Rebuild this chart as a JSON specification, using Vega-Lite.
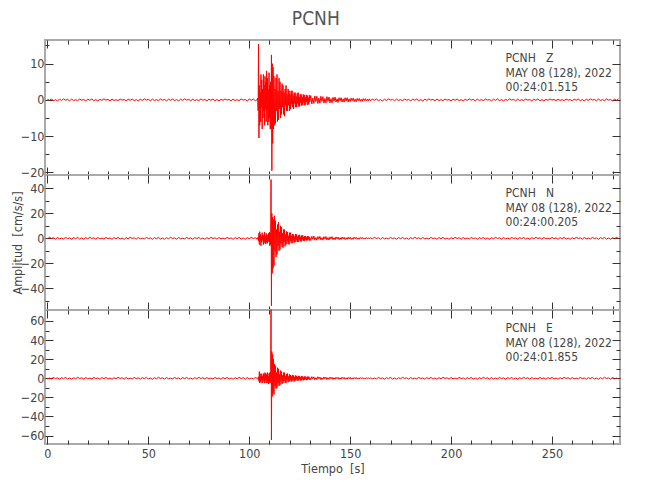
{
"$schema": "https://vega.github.io/schema/vega-lite/v6.json",
"padding": {"left": 9, "top": 9, "right": 5, "bottom": 5},
"bounds": "flush",
"title": {"text": "PCNH", "fontSize": 19, "fontWeight": "normal", "color": "#555555", "anchor": "middle", "offset": 10, "font": "DejaVu Sans Condensed, sans-serif"},
"spacing": 0,
"config": {
  "view": {"stroke": "#aaaaaa", "strokeWidth": 2},
  "font": "DejaVu Sans Condensed, sans-serif",
  "axis": {"domain": false, "grid": false, "tickColor": "#333333", "tickWidth": 1, "labelColor": "#444444", "labelFontSize": 12.5, "labelFlush": false, "labelOverlap": false, "labelBound": false, "titleFontSize": 12.5, "titleFontWeight": "normal", "titleColor": "#444444", "labelFont": "DejaVu Sans Condensed, sans-serif", "titleFont": "DejaVu Sans Condensed, sans-serif"}
},
"datasets": {"s": [
{"t":0,"z":0.2,"n":-0.4,"e":-0.6},
{"t":1,"z":-0.11,"n":0.8,"e":0.2},
{"t":2,"z":0.25,"n":-0.16,"e":-0.7},
{"t":3,"z":-0.22,"n":0.4,"e":0.9},
{"t":4,"z":0.08,"n":-0.72,"e":-0.3},
{"t":5,"z":-0.28,"n":0.64,"e":0.4},
{"t":6,"z":0.17,"n":-0.48,"e":-1.0},
{"t":7,"z":-0.14,"n":0.16,"e":0.7},
{"t":8,"z":0.28,"n":-0.56,"e":-0.4},
{"t":9,"z":-0.06,"n":0.72,"e":0.9},
{"t":10,"z":0.14,"n":-0.24,"e":-0.8},
{"t":11,"z":-0.25,"n":0.32,"e":0.3},
{"t":12,"z":0.22,"n":-0.8,"e":-1.0},
{"t":13,"z":-0.17,"n":0.56,"e":0.6},
{"t":14,"z":0.06,"n":-0.32,"e":-0.5},
{"t":15,"z":-0.2,"n":0.72,"e":1.0},
{"t":16,"z":0.25,"n":-0.64,"e":-0.2},
{"t":17,"z":-0.08,"n":0.24,"e":0.5},
{"t":18,"z":0.11,"n":-0.8,"e":-0.9},
{"t":19,"z":-0.28,"n":0.48,"e":0.8},
{"t":20,"z":0.2,"n":-0.4,"e":-0.6},
{"t":21,"z":-0.11,"n":0.8,"e":0.2},
{"t":22,"z":0.25,"n":-0.16,"e":-0.7},
{"t":23,"z":-0.22,"n":0.4,"e":0.9},
{"t":24,"z":0.08,"n":-0.72,"e":-0.3},
{"t":25,"z":-0.28,"n":0.64,"e":0.4},
{"t":26,"z":0.17,"n":-0.48,"e":-1.0},
{"t":27,"z":-0.14,"n":0.16,"e":0.7},
{"t":28,"z":0.28,"n":-0.56,"e":-0.4},
{"t":29,"z":-0.06,"n":0.72,"e":0.9},
{"t":30,"z":0.14,"n":-0.24,"e":-0.8},
{"t":31,"z":-0.25,"n":0.32,"e":0.3},
{"t":32,"z":0.22,"n":-0.8,"e":-1.0},
{"t":33,"z":-0.17,"n":0.56,"e":0.6},
{"t":34,"z":0.06,"n":-0.32,"e":-0.5},
{"t":35,"z":-0.2,"n":0.72,"e":1.0},
{"t":36,"z":0.25,"n":-0.64,"e":-0.2},
{"t":37,"z":-0.08,"n":0.24,"e":0.5},
{"t":38,"z":0.11,"n":-0.8,"e":-0.9},
{"t":39,"z":-0.28,"n":0.48,"e":0.8},
{"t":40,"z":0.2,"n":-0.4,"e":-0.6},
{"t":41,"z":-0.11,"n":0.8,"e":0.2},
{"t":42,"z":0.25,"n":-0.16,"e":-0.7},
{"t":43,"z":-0.22,"n":0.4,"e":0.9},
{"t":44,"z":0.08,"n":-0.72,"e":-0.3},
{"t":45,"z":-0.28,"n":0.64,"e":0.4},
{"t":46,"z":0.17,"n":-0.48,"e":-1.0},
{"t":47,"z":-0.14,"n":0.16,"e":0.7},
{"t":48,"z":0.28,"n":-0.56,"e":-0.4},
{"t":49,"z":-0.06,"n":0.72,"e":0.9},
{"t":50,"z":0.14,"n":-0.24,"e":-0.8},
{"t":51,"z":-0.25,"n":0.32,"e":0.3},
{"t":52,"z":0.22,"n":-0.8,"e":-1.0},
{"t":53,"z":-0.17,"n":0.56,"e":0.6},
{"t":54,"z":0.06,"n":-0.32,"e":-0.5},
{"t":55,"z":-0.2,"n":0.72,"e":1.0},
{"t":56,"z":0.25,"n":-0.64,"e":-0.2},
{"t":57,"z":-0.08,"n":0.24,"e":0.5},
{"t":58,"z":0.11,"n":-0.8,"e":-0.9},
{"t":59,"z":-0.28,"n":0.48,"e":0.8},
{"t":60,"z":0.2,"n":-0.4,"e":-0.6},
{"t":61,"z":-0.11,"n":0.8,"e":0.2},
{"t":62,"z":0.25,"n":-0.16,"e":-0.7},
{"t":63,"z":-0.22,"n":0.4,"e":0.9},
{"t":64,"z":0.08,"n":-0.72,"e":-0.3},
{"t":65,"z":-0.28,"n":0.64,"e":0.4},
{"t":66,"z":0.17,"n":-0.48,"e":-1.0},
{"t":67,"z":-0.14,"n":0.16,"e":0.7},
{"t":68,"z":0.28,"n":-0.56,"e":-0.4},
{"t":69,"z":-0.06,"n":0.72,"e":0.9},
{"t":70,"z":0.14,"n":-0.24,"e":-0.8},
{"t":71,"z":-0.25,"n":0.32,"e":0.3},
{"t":72,"z":0.22,"n":-0.8,"e":-1.0},
{"t":73,"z":-0.17,"n":0.56,"e":0.6},
{"t":74,"z":0.06,"n":-0.32,"e":-0.5},
{"t":75,"z":-0.2,"n":0.72,"e":1.0},
{"t":76,"z":0.25,"n":-0.64,"e":-0.2},
{"t":77,"z":-0.08,"n":0.24,"e":0.5},
{"t":78,"z":0.11,"n":-0.8,"e":-0.9},
{"t":79,"z":-0.28,"n":0.48,"e":0.8},
{"t":80,"z":0.2,"n":-0.4,"e":-0.6},
{"t":81,"z":-0.11,"n":0.8,"e":0.2},
{"t":82,"z":0.25,"n":-0.16,"e":-0.7},
{"t":83,"z":-0.22,"n":0.4,"e":0.9},
{"t":84,"z":0.08,"n":-0.72,"e":-0.3},
{"t":85,"z":-0.28,"n":0.64,"e":0.4},
{"t":86,"z":0.17,"n":-0.48,"e":-1.0},
{"t":87,"z":-0.14,"n":0.16,"e":0.7},
{"t":88,"z":0.28,"n":-0.56,"e":-0.4},
{"t":89,"z":-0.06,"n":0.72,"e":0.9},
{"t":90,"z":0.14,"n":-0.24,"e":-0.8},
{"t":91,"z":-0.25,"n":0.32,"e":0.3},
{"t":92,"z":0.22,"n":-0.8,"e":-1.0},
{"t":93,"z":-0.17,"n":0.56,"e":0.6},
{"t":94,"z":0.06,"n":-0.32,"e":-0.5},
{"t":95,"z":-0.2,"n":0.72,"e":1.0},
{"t":96,"z":0.25,"n":-0.64,"e":-0.2},
{"t":97,"z":-0.08,"n":0.24,"e":0.5},
{"t":98,"z":0.11,"n":-0.8,"e":-0.9},
{"t":99,"z":-0.28,"n":0.48,"e":0.8},
{"t":100,"z":0.2,"n":-0.4,"e":-0.6},
{"t":101,"z":-0.11,"n":0.8,"e":0.2},
{"t":102,"z":0.25,"n":-0.16,"e":-0.7},
{"t":103,"z":-0.22,"n":0.4,"e":0.9},
{"t":104,"z":0.08,"n":-0.72,"e":-0.3},
{"t":104.2,"z":0.5,"n":0.5,"e":-0.6},
{"t":104.4,"z":-3,"n":0.8,"e":0.7},
{"t":104.6,"z":15.4,"n":-2,"e":1.5},
{"t":104.8,"z":-10.5,"n":4,"e":-3},
{"t":105.0,"z":4,"n":-5,"e":7},
{"t":105.2,"z":-7,"n":5.3,"e":-5},
{"t":105.4,"z":2,"n":-2,"e":3},
{"t":105.6,"z":-6,"n":3,"e":-4},
{"t":105.8,"z":7,"n":-6,"e":5},
{"t":106.0,"z":-2,"n":2,"e":-2},
{"t":106.2,"z":5.5,"n":-3,"e":4},
{"t":106.4,"z":-8,"n":4.5,"e":-5},
{"t":106.6,"z":3,"n":-1.5,"e":2},
{"t":106.8,"z":-5,"n":3,"e":-4},
{"t":107.0,"z":7,"n":-5,"e":5},
{"t":107.2,"z":-3,"n":2,"e":-1.5},
{"t":107.4,"z":4,"n":-3,"e":4},
{"t":107.6,"z":-7,"n":5,"e":-5},
{"t":107.8,"z":6.5,"n":-4,"e":6},
{"t":108.0,"z":-2.5,"n":1.5,"e":-2},
{"t":108.2,"z":5,"n":-4.5,"e":5},
{"t":108.4,"z":-6,"n":4,"e":-5},
{"t":108.6,"z":8,"n":-3,"e":4},
{"t":108.8,"z":-3,"n":2,"e":-2},
{"t":109.0,"z":6,"n":-4,"e":6},
{"t":109.2,"z":-7,"n":3,"e":-5},
{"t":109.4,"z":3,"n":-2,"e":2},
{"t":109.6,"z":-6,"n":4,"e":-6},
{"t":109.8,"z":7.5,"n":-3,"e":5},
{"t":110.0,"z":-5,"n":5,"e":-4},
{"t":110.2,"z":4,"n":-6,"e":6},
{"t":110.4,"z":-8,"n":4,"e":-5},
{"t":110.6,"z":5,"n":-5,"e":8},
{"t":110.8,"z":-8,"n":47,"e":72},
{"t":111.0,"z":12.4,"n":-54,"e":-64.6},
{"t":111.2,"z":-19.5,"n":20,"e":28},
{"t":111.4,"z":10,"n":-28,"e":-19},
{"t":111.6,"z":-12,"n":17,"e":25},
{"t":111.8,"z":9,"n":-24,"e":-15},
{"t":112.0,"z":-8,"n":15,"e":20},
{"t":112.25,"z":6.5,"n":-22,"e":-17},
{"t":112.5,"z":-7,"n":18,"e":15},
{"t":112.75,"z":3,"n":-10,"e":-8},
{"t":113.0,"z":-6.5,"n":14,"e":13},
{"t":113.25,"z":6,"n":-15,"e":-11},
{"t":113.5,"z":-3,"n":7,"e":6},
{"t":113.75,"z":7,"n":-13,"e":-10},
{"t":114.0,"z":-6,"n":11,"e":11},
{"t":114.25,"z":2.5,"n":-6,"e":-5},
{"t":114.5,"z":-5.5,"n":13,"e":10},
{"t":114.75,"z":6,"n":-10,"e":-8},
{"t":115.0,"z":-2.5,"n":5,"e":4},
{"t":115.25,"z":5,"n":-9,"e":-7},
{"t":115.5,"z":-5,"n":10,"e":8},
{"t":115.75,"z":2.5,"n":-4,"e":-3},
{"t":116.0,"z":-4,"n":9,"e":7},
{"t":116.25,"z":4.5,"n":-7,"e":-6},
{"t":116.5,"z":-2,"n":4,"e":3},
{"t":116.75,"z":4,"n":-7.5,"e":-5},
{"t":117.0,"z":-4,"n":7,"e":6},
{"t":117.25,"z":2,"n":-3,"e":-2.5},
{"t":117.5,"z":-4.5,"n":7,"e":6},
{"t":117.75,"z":3,"n":-6.5,"e":-4.5},
{"t":118.0,"z":-1.5,"n":3,"e":2.5},
{"t":118.25,"z":4,"n":-5,"e":-5},
{"t":118.5,"z":-3,"n":5.5,"e":4.5},
{"t":118.75,"z":1.5,"n":-2.5,"e":-2},
{"t":119.0,"z":-3,"n":5,"e":5},
{"t":119.25,"z":3,"n":-4.5,"e":-4},
{"t":119.5,"z":-1.5,"n":2,"e":2},
{"t":119.75,"z":2.5,"n":-5,"e":-3.5},
{"t":120.0,"z":-3,"n":4.5,"e":4},
{"t":120.25,"z":1.5,"n":-2,"e":-2},
{"t":120.5,"z":-2.5,"n":4.5,"e":3.5},
{"t":120.75,"z":2.5,"n":-3.5,"e":-3.5},
{"t":121.0,"z":-1.2,"n":2,"e":2},
{"t":121.25,"z":2.5,"n":-4,"e":-3},
{"t":121.5,"z":-2,"n":3.5,"e":3.5},
{"t":121.75,"z":1.2,"n":-1.8,"e":-1.5},
{"t":122.0,"z":-2.5,"n":3,"e":3},
{"t":122.25,"z":2,"n":-3.5,"e":-3.5},
{"t":122.5,"z":-1,"n":1.5,"e":1.5},
{"t":122.75,"z":2,"n":-3,"e":-2.5},
{"t":123.0,"z":-2,"n":3.5,"e":3},
{"t":123.25,"z":1,"n":-1.5,"e":-1.5},
{"t":123.5,"z":-2,"n":3,"e":2.5},
{"t":123.75,"z":1.8,"n":-3,"e":-2.5},
{"t":124.0,"z":-1,"n":1.3,"e":1.5},
{"t":124.25,"z":2,"n":-3,"e":-2.5},
{"t":124.5,"z":-1.8,"n":2.5,"e":2.5},
{"t":124.75,"z":0.8,"n":-1.2,"e":-1},
{"t":125.0,"z":-1.8,"n":2.8,"e":2.5},
{"t":125.25,"z":1.6,"n":-2.5,"e":-2.5},
{"t":125.5,"z":-0.8,"n":1.2,"e":1},
{"t":125.75,"z":1.5,"n":-2.5,"e":-2.2},
{"t":126.0,"z":-1.6,"n":2.3,"e":2.5},
{"t":126.25,"z":0.8,"n":-1,"e":-1},
{"t":126.5,"z":-1.4,"n":2.5,"e":2},
{"t":126.75,"z":1.5,"n":-2,"e":-2.2},
{"t":127.0,"z":-0.7,"n":1,"e":1},
{"t":127.25,"z":1.4,"n":-2.2,"e":-1.8},
{"t":127.5,"z":-1.5,"n":1.8,"e":2},
{"t":127.75,"z":0.7,"n":-1,"e":-0.9},
{"t":128.0,"z":-1.3,"n":1.8,"e":1.8},
{"t":128.25,"z":1.4,"n":-1.8,"e":-2},
{"t":128.5,"z":-0.6,"n":1,"e":0.8},
{"t":128.75,"z":1.2,"n":-1.6,"e":-1.8},
{"t":129.0,"z":-1.4,"n":1.8,"e":1.8},
{"t":129.25,"z":0.6,"n":-0.8,"e":-0.8},
{"t":129.5,"z":-1.2,"n":1.5,"e":1.7},
{"t":129.75,"z":1.3,"n":-1.8,"e":-1.5},
{"t":130.0,"z":-0.6,"n":0.8,"e":0.8},
{"t":130.5,"z":1.2,"n":-1.8,"e":-1.6},
{"t":131.0,"z":-1.1,"n":1.6,"e":1.7},
{"t":131.5,"z":0.5,"n":-0.8,"e":-0.7},
{"t":132.0,"z":-1.0,"n":1.8,"e":1.5},
{"t":132.5,"z":1.1,"n":-1.5,"e":-1.6},
{"t":133.0,"z":-0.5,"n":0.7,"e":0.7},
{"t":133.5,"z":1.0,"n":-1.5,"e":-1.5},
{"t":134.0,"z":-1.0,"n":1.4,"e":1.6},
{"t":134.5,"z":0.5,"n":-0.7,"e":-0.6},
{"t":135.0,"z":-0.9,"n":1.5,"e":1.3},
{"t":135.5,"z":1.0,"n":-1.3,"e":-1.5},
{"t":136.0,"z":-0.4,"n":0.6,"e":0.6},
{"t":136.5,"z":0.9,"n":-1.5,"e":-1.2},
{"t":137.0,"z":-0.9,"n":1.3,"e":1.4},
{"t":137.5,"z":0.4,"n":-0.6,"e":-0.6},
{"t":138.0,"z":-0.8,"n":1.4,"e":1.2},
{"t":138.5,"z":0.9,"n":-1.3,"e":-1.3},
{"t":139.0,"z":-0.4,"n":0.6,"e":0.6},
{"t":139.5,"z":0.8,"n":-1.4,"e":-1.1},
{"t":140.0,"z":-0.8,"n":1.2,"e":1.3},
{"t":140.5,"z":0.35,"n":-0.6,"e":-0.5},
{"t":141.0,"z":-0.8,"n":1.3,"e":1.1},
{"t":141.5,"z":0.7,"n":-1.1,"e":-1.2},
{"t":142.0,"z":-0.35,"n":0.5,"e":0.6},
{"t":142.5,"z":0.8,"n":-1.2,"e":-1.0},
{"t":143.0,"z":-0.6,"n":1.1,"e":1.1},
{"t":143.5,"z":0.3,"n":-0.5,"e":-0.5},
{"t":144.0,"z":-0.7,"n":1.0,"e":1.0},
{"t":144.5,"z":0.6,"n":-1.1,"e":-1.1},
{"t":145.0,"z":-0.3,"n":0.5,"e":0.5},
{"t":145.5,"z":0.6,"n":-1.0,"e":-1.0},
{"t":146.0,"z":-0.6,"n":1.0,"e":1.1},
{"t":146.5,"z":0.3,"n":-0.5,"e":-0.5},
{"t":147.0,"z":-0.6,"n":0.9,"e":1.0},
{"t":147.5,"z":0.6,"n":-1.0,"e":-1.0},
{"t":148.0,"z":-0.3,"n":0.5,"e":0.5},
{"t":148.5,"z":0.6,"n":-0.9,"e":-1.0},
{"t":149.0,"z":-0.6,"n":0.9,"e":0.9},
{"t":149.5,"z":0.3,"n":-0.5,"e":-0.5},
{"t":150.0,"z":-0.5,"n":0.9,"e":1.0},
{"t":150.5,"z":0.5,"n":-0.9,"e":-0.9},
{"t":151.0,"z":-0.25,"n":0.4,"e":0.5},
{"t":151.5,"z":0.5,"n":-0.8,"e":-0.9},
{"t":152.0,"z":-0.5,"n":0.9,"e":0.8},
{"t":152.5,"z":0.25,"n":-0.4,"e":-0.5},
{"t":153.0,"z":-0.5,"n":0.8,"e":0.9},
{"t":153.5,"z":0.4,"n":-0.8,"e":-0.8},
{"t":154.0,"z":-0.25,"n":0.4,"e":0.4},
{"t":154.5,"z":0.4,"n":-0.8,"e":-0.8},
{"t":155.0,"z":-0.4,"n":0.7,"e":0.8},
{"t":155.5,"z":0.2,"n":-0.4,"e":-0.4},
{"t":156.0,"z":-0.4,"n":0.7,"e":0.7},
{"t":156.5,"z":0.35,"n":-0.6,"e":-0.7},
{"t":157.0,"z":-0.2,"n":0.35,"e":0.4},
{"t":157.5,"z":0.35,"n":-0.6,"e":-0.7},
{"t":158.0,"z":-0.3,"n":0.6,"e":0.6},
{"t":158.5,"z":0.2,"n":-0.35,"e":-0.4},
{"t":159.0,"z":-0.3,"n":0.5,"e":0.6},
{"t":159.5,"z":0.3,"n":-0.5,"e":-0.6},
{"t":160.0,"z":-0.2,"n":0.4,"e":0.5},
{"t":161,"z":0.2,"n":-0.4,"e":-0.6},
{"t":162,"z":-0.11,"n":0.8,"e":0.2},
{"t":163,"z":0.25,"n":-0.16,"e":-0.7},
{"t":164,"z":-0.22,"n":0.4,"e":0.9},
{"t":165,"z":0.08,"n":-0.72,"e":-0.3},
{"t":166,"z":-0.28,"n":0.64,"e":0.4},
{"t":167,"z":0.17,"n":-0.48,"e":-1.0},
{"t":168,"z":-0.14,"n":0.16,"e":0.7},
{"t":169,"z":0.28,"n":-0.56,"e":-0.4},
{"t":170,"z":-0.06,"n":0.72,"e":0.9},
{"t":171,"z":0.14,"n":-0.24,"e":-0.8},
{"t":172,"z":-0.25,"n":0.32,"e":0.3},
{"t":173,"z":0.22,"n":-0.8,"e":-1.0},
{"t":174,"z":-0.17,"n":0.56,"e":0.6},
{"t":175,"z":0.06,"n":-0.32,"e":-0.5},
{"t":176,"z":-0.2,"n":0.72,"e":1.0},
{"t":177,"z":0.25,"n":-0.64,"e":-0.2},
{"t":178,"z":-0.08,"n":0.24,"e":0.5},
{"t":179,"z":0.11,"n":-0.8,"e":-0.9},
{"t":180,"z":-0.28,"n":0.48,"e":0.8},
{"t":181,"z":0.2,"n":-0.4,"e":-0.6},
{"t":182,"z":-0.11,"n":0.8,"e":0.2},
{"t":183,"z":0.25,"n":-0.16,"e":-0.7},
{"t":184,"z":-0.22,"n":0.4,"e":0.9},
{"t":185,"z":0.08,"n":-0.72,"e":-0.3},
{"t":186,"z":-0.28,"n":0.64,"e":0.4},
{"t":187,"z":0.17,"n":-0.48,"e":-1.0},
{"t":188,"z":-0.14,"n":0.16,"e":0.7},
{"t":189,"z":0.28,"n":-0.56,"e":-0.4},
{"t":190,"z":-0.06,"n":0.72,"e":0.9},
{"t":191,"z":0.14,"n":-0.24,"e":-0.8},
{"t":192,"z":-0.25,"n":0.32,"e":0.3},
{"t":193,"z":0.22,"n":-0.8,"e":-1.0},
{"t":194,"z":-0.17,"n":0.56,"e":0.6},
{"t":195,"z":0.06,"n":-0.32,"e":-0.5},
{"t":196,"z":-0.2,"n":0.72,"e":1.0},
{"t":197,"z":0.25,"n":-0.64,"e":-0.2},
{"t":198,"z":-0.08,"n":0.24,"e":0.5},
{"t":199,"z":0.11,"n":-0.8,"e":-0.9},
{"t":200,"z":-0.28,"n":0.48,"e":0.8},
{"t":201,"z":0.2,"n":-0.4,"e":-0.6},
{"t":202,"z":-0.11,"n":0.8,"e":0.2},
{"t":203,"z":0.25,"n":-0.16,"e":-0.7},
{"t":204,"z":-0.22,"n":0.4,"e":0.9},
{"t":205,"z":0.08,"n":-0.72,"e":-0.3},
{"t":206,"z":-0.28,"n":0.64,"e":0.4},
{"t":207,"z":0.17,"n":-0.48,"e":-1.0},
{"t":208,"z":-0.14,"n":0.16,"e":0.7},
{"t":209,"z":0.28,"n":-0.56,"e":-0.4},
{"t":210,"z":-0.06,"n":0.72,"e":0.9},
{"t":211,"z":0.14,"n":-0.24,"e":-0.8},
{"t":212,"z":-0.25,"n":0.32,"e":0.3},
{"t":213,"z":0.22,"n":-0.8,"e":-1.0},
{"t":214,"z":-0.17,"n":0.56,"e":0.6},
{"t":215,"z":0.06,"n":-0.32,"e":-0.5},
{"t":216,"z":-0.2,"n":0.72,"e":1.0},
{"t":217,"z":0.25,"n":-0.64,"e":-0.2},
{"t":218,"z":-0.08,"n":0.24,"e":0.5},
{"t":219,"z":0.11,"n":-0.8,"e":-0.9},
{"t":220,"z":-0.28,"n":0.48,"e":0.8},
{"t":221,"z":0.2,"n":-0.4,"e":-0.6},
{"t":222,"z":-0.11,"n":0.8,"e":0.2},
{"t":223,"z":0.25,"n":-0.16,"e":-0.7},
{"t":224,"z":-0.22,"n":0.4,"e":0.9},
{"t":225,"z":0.08,"n":-0.72,"e":-0.3},
{"t":226,"z":-0.28,"n":0.64,"e":0.4},
{"t":227,"z":0.17,"n":-0.48,"e":-1.0},
{"t":228,"z":-0.14,"n":0.16,"e":0.7},
{"t":229,"z":0.28,"n":-0.56,"e":-0.4},
{"t":230,"z":-0.06,"n":0.72,"e":0.9},
{"t":231,"z":0.14,"n":-0.24,"e":-0.8},
{"t":232,"z":-0.25,"n":0.32,"e":0.3},
{"t":233,"z":0.22,"n":-0.8,"e":-1.0},
{"t":234,"z":-0.17,"n":0.56,"e":0.6},
{"t":235,"z":0.06,"n":-0.32,"e":-0.5},
{"t":236,"z":-0.2,"n":0.72,"e":1.0},
{"t":237,"z":0.25,"n":-0.64,"e":-0.2},
{"t":238,"z":-0.08,"n":0.24,"e":0.5},
{"t":239,"z":0.11,"n":-0.8,"e":-0.9},
{"t":240,"z":-0.28,"n":0.48,"e":0.8},
{"t":241,"z":0.2,"n":-0.4,"e":-0.6},
{"t":242,"z":-0.11,"n":0.8,"e":0.2},
{"t":243,"z":0.25,"n":-0.16,"e":-0.7},
{"t":244,"z":-0.22,"n":0.4,"e":0.9},
{"t":245,"z":0.08,"n":-0.72,"e":-0.3},
{"t":246,"z":-0.28,"n":0.64,"e":0.4},
{"t":247,"z":0.17,"n":-0.48,"e":-1.0},
{"t":248,"z":-0.14,"n":0.16,"e":0.7},
{"t":249,"z":0.28,"n":-0.56,"e":-0.4},
{"t":250,"z":-0.06,"n":0.72,"e":0.9},
{"t":251,"z":0.14,"n":-0.24,"e":-0.8},
{"t":252,"z":-0.25,"n":0.32,"e":0.3},
{"t":253,"z":0.22,"n":-0.8,"e":-1.0},
{"t":254,"z":-0.17,"n":0.56,"e":0.6},
{"t":255,"z":0.06,"n":-0.32,"e":-0.5},
{"t":256,"z":-0.2,"n":0.72,"e":1.0},
{"t":257,"z":0.25,"n":-0.64,"e":-0.2},
{"t":258,"z":-0.08,"n":0.24,"e":0.5},
{"t":259,"z":0.11,"n":-0.8,"e":-0.9},
{"t":260,"z":-0.28,"n":0.48,"e":0.8},
{"t":261,"z":0.2,"n":-0.4,"e":-0.6},
{"t":262,"z":-0.11,"n":0.8,"e":0.2},
{"t":263,"z":0.25,"n":-0.16,"e":-0.7},
{"t":264,"z":-0.22,"n":0.4,"e":0.9},
{"t":265,"z":0.08,"n":-0.72,"e":-0.3},
{"t":266,"z":-0.28,"n":0.64,"e":0.4},
{"t":267,"z":0.17,"n":-0.48,"e":-1.0},
{"t":268,"z":-0.14,"n":0.16,"e":0.7},
{"t":269,"z":0.28,"n":-0.56,"e":-0.4},
{"t":270,"z":-0.06,"n":0.72,"e":0.9},
{"t":271,"z":0.14,"n":-0.24,"e":-0.8},
{"t":272,"z":-0.25,"n":0.32,"e":0.3},
{"t":273,"z":0.22,"n":-0.8,"e":-1.0},
{"t":274,"z":-0.17,"n":0.56,"e":0.6},
{"t":275,"z":0.06,"n":-0.32,"e":-0.5},
{"t":276,"z":-0.2,"n":0.72,"e":1.0},
{"t":277,"z":0.25,"n":-0.64,"e":-0.2},
{"t":278,"z":-0.08,"n":0.24,"e":0.5},
{"t":279,"z":0.11,"n":-0.8,"e":-0.9},
{"t":280,"z":-0.28,"n":0.48,"e":0.8},
{"t":281,"z":0.2,"n":-0.4,"e":-0.6},
{"t":282,"z":-0.11,"n":0.8,"e":0.2},
{"t":283,"z":0.25,"n":-0.16,"e":-0.7}
]},
"data": {"name": "s"},
"vconcat": [
 {
  "width": 575, "height": 135,
  "layer": [
   {"mark": {"type": "line", "color": "#ff0000", "strokeWidth": 1},
    "encoding": {
     "x": {"field": "t", "type": "quantitative", "scale": {"domain": [-1.2, 283.7], "nice": false, "zero": false}, "axis": {"orient": "bottom", "values": [0,50,100,150,200,250], "tickSize": -8, "labels": false, "title": null}},
     "y": {"field": "z", "type": "quantitative", "scale": {"domain": [-20.69, 16.5], "nice": false, "zero": false}, "axis": {"orient": "left", "values": [-20,-10,0,10], "tickSize": -8, "labelPadding": 9, "title": null}}}},
   {"mark": {"type": "line", "strokeOpacity": 0},
    "encoding": {
     "x": {"field": "t", "type": "quantitative", "axis": {"orient": "top", "values": [0,50,100,150,200,250], "tickSize": -8, "labels": false, "title": null}},
     "y": {"field": "z", "type": "quantitative", "axis": {"orient": "right", "values": [-20,-10,0,10], "tickSize": -8, "labels": false, "title": null}}}},
   {"mark": {"type": "line", "strokeOpacity": 0},
    "encoding": {
     "x": {"field": "t", "type": "quantitative", "axis": {"orient": "bottom", "values": [10,20,30,40,60,70,80,90,110,120,130,140,160,170,180,190,210,220,230,240,260,270,280], "tickSize": -4, "labels": false, "title": null}},
     "y": {"field": "z", "type": "quantitative", "axis": {"orient": "left", "values": [-15,-5,5,15], "tickSize": -4, "labels": false, "title": null}}}},
   {"mark": {"type": "line", "strokeOpacity": 0},
    "encoding": {
     "x": {"field": "t", "type": "quantitative", "axis": {"orient": "top", "values": [10,20,30,40,60,70,80,90,110,120,130,140,160,170,180,190,210,220,230,240,260,270,280], "tickSize": -4, "labels": false, "title": null}},
     "y": {"field": "z", "type": "quantitative", "axis": {"orient": "right", "values": [-15,-5,5,15], "tickSize": -4, "labels": false, "title": null}}}},
   {"data": {"values": [{"lbl": "PCNH\u00a0\u00a0\u00a0Z\nMAY 08 (128), 2022\n00:24:01.515"}]},
    "mark": {"type": "text", "align": "left", "baseline": "top", "lineBreak": "\n", "lineHeight": 14.5, "fontSize": 12, "color": "#444444"},
    "encoding": {
     "x": {"datum": 227, "type": "quantitative", "axis": null},
     "y": {"datum": 12.9, "type": "quantitative", "axis": null},
     "text": {"field": "lbl"}}}
  ],
  "resolve": {"axis": {"x": "independent", "y": "independent"}}
 },
 {
  "width": 575, "height": 135,
  "layer": [
   {"mark": {"type": "line", "color": "#ff0000", "strokeWidth": 1},
    "encoding": {
     "x": {"field": "t", "type": "quantitative", "scale": {"domain": [-1.2, 283.7], "nice": false, "zero": false}, "axis": {"orient": "bottom", "values": [0,50,100,150,200,250], "tickSize": -8, "labels": false, "title": null}},
     "y": {"field": "n", "type": "quantitative", "scale": {"domain": [-57.36, 50.64], "nice": false, "zero": false}, "axis": {"orient": "left", "values": [-40,-20,0,20,40], "tickSize": -8, "labelPadding": 9, "title": "Amplitud\u00a0\u00a0[cm/s/s]", "titleX": -21}}}},
   {"mark": {"type": "line", "strokeOpacity": 0},
    "encoding": {
     "x": {"field": "t", "type": "quantitative", "axis": {"orient": "top", "values": [0,50,100,150,200,250], "tickSize": -8, "labels": false, "title": null}},
     "y": {"field": "n", "type": "quantitative", "axis": {"orient": "right", "values": [-40,-20,0,20,40], "tickSize": -8, "labels": false, "title": null}}}},
   {"mark": {"type": "line", "strokeOpacity": 0},
    "encoding": {
     "x": {"field": "t", "type": "quantitative", "axis": {"orient": "bottom", "values": [10,20,30,40,60,70,80,90,110,120,130,140,160,170,180,190,210,220,230,240,260,270,280], "tickSize": -4, "labels": false, "title": null}},
     "y": {"field": "n", "type": "quantitative", "axis": {"orient": "left", "values": [-50,-30,-10,10,30], "tickSize": -4, "labels": false, "title": null}}}},
   {"mark": {"type": "line", "strokeOpacity": 0},
    "encoding": {
     "x": {"field": "t", "type": "quantitative", "axis": {"orient": "top", "values": [10,20,30,40,60,70,80,90,110,120,130,140,160,170,180,190,210,220,230,240,260,270,280], "tickSize": -4, "labels": false, "title": null}},
     "y": {"field": "n", "type": "quantitative", "axis": {"orient": "right", "values": [-50,-30,-10,10,30], "tickSize": -4, "labels": false, "title": null}}}},
   {"data": {"values": [{"lbl": "PCNH\u00a0\u00a0\u00a0N\nMAY 08 (128), 2022\n00:24:00.205"}]},
    "mark": {"type": "text", "align": "left", "baseline": "top", "lineBreak": "\n", "lineHeight": 14.5, "fontSize": 12, "color": "#444444"},
    "encoding": {
     "x": {"datum": 227, "type": "quantitative", "axis": null},
     "y": {"datum": 40.2, "type": "quantitative", "axis": null},
     "text": {"field": "lbl"}}}
  ],
  "resolve": {"axis": {"x": "independent", "y": "independent"}}
 },
 {
  "width": 575, "height": 134,
  "layer": [
   {"mark": {"type": "line", "color": "#ff0000", "strokeWidth": 1},
    "encoding": {
     "x": {"field": "t", "type": "quantitative", "scale": {"domain": [-1.2, 283.7], "nice": false, "zero": false}, "axis": {"orient": "bottom", "values": [0,50,100,150,200,250], "tickSize": -8, "labelPadding": 11, "title": "Tiempo\u00a0\u00a0[s]", "titlePadding": 3}},
     "y": {"field": "e", "type": "quantitative", "scale": {"domain": [-68.8, 71.5], "nice": false, "zero": false}, "axis": {"orient": "left", "values": [-60,-40,-20,0,20,40,60], "tickSize": -8, "labelPadding": 9, "title": null}}}},
   {"mark": {"type": "line", "strokeOpacity": 0},
    "encoding": {
     "x": {"field": "t", "type": "quantitative", "axis": {"orient": "top", "values": [0,50,100,150,200,250], "tickSize": -8, "labels": false, "title": null}},
     "y": {"field": "e", "type": "quantitative", "axis": {"orient": "right", "values": [-60,-40,-20,0,20,40,60], "tickSize": -8, "labels": false, "title": null}}}},
   {"mark": {"type": "line", "strokeOpacity": 0},
    "encoding": {
     "x": {"field": "t", "type": "quantitative", "axis": {"orient": "bottom", "values": [10,20,30,40,60,70,80,90,110,120,130,140,160,170,180,190,210,220,230,240,260,270,280], "tickSize": -4, "labels": false, "title": null}},
     "y": {"field": "e", "type": "quantitative", "axis": {"orient": "left", "values": [-50,-30,-10,10,30,50], "tickSize": -4, "labels": false, "title": null}}}},
   {"mark": {"type": "line", "strokeOpacity": 0},
    "encoding": {
     "x": {"field": "t", "type": "quantitative", "axis": {"orient": "top", "values": [10,20,30,40,60,70,80,90,110,120,130,140,160,170,180,190,210,220,230,240,260,270,280], "tickSize": -4, "labels": false, "title": null}},
     "y": {"field": "e", "type": "quantitative", "axis": {"orient": "right", "values": [-50,-30,-10,10,30,50], "tickSize": -4, "labels": false, "title": null}}}},
   {"data": {"values": [{"lbl": "PCNH\u00a0\u00a0\u00a0E\nMAY 08 (128), 2022\n00:24:01.855"}]},
    "mark": {"type": "text", "align": "left", "baseline": "top", "lineBreak": "\n", "lineHeight": 14.5, "fontSize": 12, "color": "#444444"},
    "encoding": {
     "x": {"datum": 227, "type": "quantitative", "axis": null},
     "y": {"datum": 57.5, "type": "quantitative", "axis": null},
     "text": {"field": "lbl"}}}
  ],
  "resolve": {"axis": {"x": "independent", "y": "independent"}}
 }
]
}
